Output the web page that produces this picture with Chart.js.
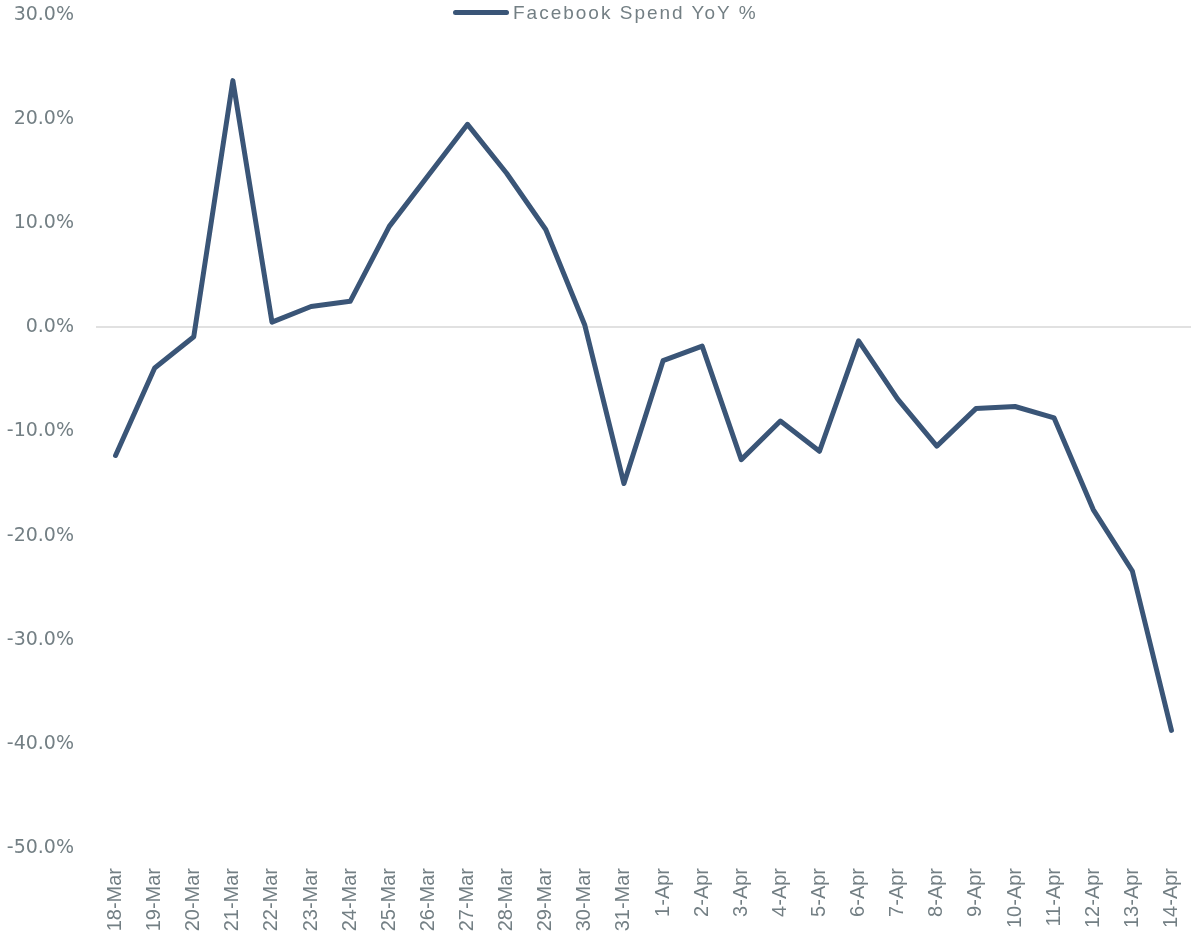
<!DOCTYPE html>
<html>
<head>
<meta charset="utf-8">
<script src="https://cdn.jsdelivr.net/npm/chart.js@4.4.1/dist/chart.umd.min.js"></script>
<style>
  html, body { margin: 0; padding: 0; background: #fff; }
  #wrap { position: relative; width: 1191px; height: 940px; }
  #legend {
    position: absolute; top: 2px; left: 453px;
    font-family: "Liberation Sans", Arial, sans-serif; font-size: 19px;
    letter-spacing: 2px; color: #737f84; white-space: nowrap;
  }
  #legend span.swatch {
    display: inline-block; width: 56px; height: 5px; border-radius: 3px;
    background: #3a5577; vertical-align: middle; margin-right: 4px; position: relative; top: -1px;
  }
</style>
</head>
<body>
<div id="wrap">
  <canvas id="myChart" width="1191" height="940"></canvas>
  <div id="legend"><span class="swatch"></span>Facebook Spend YoY %</div>
</div>
<script>
var labels = ["18-Mar","19-Mar","20-Mar","21-Mar","22-Mar","23-Mar","24-Mar","25-Mar","26-Mar","27-Mar",
  "28-Mar","29-Mar","30-Mar","31-Mar","1-Apr","2-Apr","3-Apr","4-Apr","5-Apr","6-Apr",
  "7-Apr","8-Apr","9-Apr","10-Apr","11-Apr","12-Apr","13-Apr","14-Apr"]
var spendYoY = [-12.3,-3.9,-0.9,23.7,0.5,2.0,2.5,9.7,14.6,19.5,
  14.8,9.4,0.2,-15.0,-3.2,-1.8,-12.7,-9.0,-11.9,-1.3,
  -6.9,-11.4,-7.8,-7.6,-8.7,-17.5,-23.4,-38.7]
var yMin = -50, yMax = 30, yStep = 10

var textColor = "#737f84"
var lineColor = "#3a5577"

var ctx = document.getElementById("myChart").getContext("2d")
var chart = new Chart(ctx, {
  type: "line",
  data: {
    labels: labels,
    datasets: [{
      label: "Facebook Spend YoY %",
      data: spendYoY,
      borderColor: lineColor,
      backgroundColor: lineColor,
      borderWidth: 5,
      pointRadius: 0,
      tension: 0,
      borderCapStyle: "round",
      borderJoinStyle: "round"
    }]
  },
  options: {
    responsive: false,
    animation: false,
    layout: { padding: { top: 15, right: 0, left: 0, bottom: 0 } },
    plugins: { legend: { display: false }, tooltip: { enabled: false } },
    scales: {
      x: {
        offset: true,
        grid: { display: false },
        border: { display: false },
        ticks: {
          color: textColor, minRotation: 90, maxRotation: 90, padding: 12,
          font: { family: "Liberation Sans", size: 20 }
        },
        afterFit: function(axis) {
          axis.height = 92
          axis.paddingLeft = 0
          axis.paddingRight = 0
        }
      },
      y: {
        min: yMin, max: yMax,
        border: { display: false },
        grid: {
          drawTicks: false,
          lineWidth: 2,
          color: function(c) { return c.tick && c.tick.value === 0 ? "#e1e1e1" : "rgba(0,0,0,0)" }
        },
        ticks: {
          stepSize: yStep, color: textColor, padding: 22,
          font: { family: "DejaVu Sans", size: 19 },
          callback: function(v) { return v.toFixed(1) + "%" }
        },
        afterFit: function(axis) {
          axis.width = 96
          axis.paddingTop = 0
          axis.paddingBottom = 0
        }
      }
    }
  }
})
</script>
</body>
</html>
